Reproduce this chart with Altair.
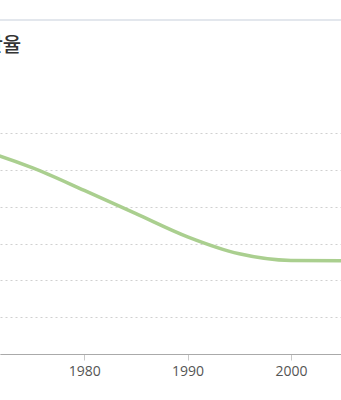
import altair as alt
import pandas as pd

years = [1965, 1970, 1975, 1980, 1985, 1990, 1995, 2000, 2005, 2010]
values = [5.85, 5.53, 5.05, 4.44, 3.81, 3.18, 2.72, 2.54, 2.53, 2.53]
x_ticks = [1980, 1990, 2000]
y_grid = [0, 1, 2, 3, 4, 5, 6]
title_text = "출산율"

df = pd.DataFrame({"year": years, "value": values})

W, H = 341, 221

line = alt.Chart(df).mark_line(
    color="#aacf8f", strokeWidth=3.5, interpolate="monotone", clip=True
).encode(
    x=alt.X("year:Q",
            scale=alt.Scale(domain=[1971.84, 2004.85], nice=False, zero=False),
            axis=alt.Axis(values=x_ticks, format="d", title=None, grid=False,
                          tickSize=6, tickColor="#c8c8c8", domainColor="#aaaaaa",
                          labelFontSize=14, labelColor="#555555",
                          labelFont="Open Sans", labelPadding=4)),
    y=alt.Y("value:Q",
            scale=alt.Scale(domain=[0, 6], nice=False),
            axis=alt.Axis(values=y_grid, title=None, labels=False, ticks=False,
                          domain=False, grid=True, gridColor="#d0d0d0",
                          gridDash=[2, 3], gridWidth=1)),
)

sep = alt.Chart(df).mark_rule(color="#e3e7ec", strokeWidth=1.5).encode(
    x=alt.value(0), x2=alt.value(W), y=alt.value(20 - 133)
)

title = alt.Chart(pd.DataFrame({"t": [title_text]})).mark_text(
    align="left", baseline="middle", fontSize=20, fontWeight=500,
    font="Noto Sans CJK KR", color="#333333"
).encode(
    x=alt.value(-34), y=alt.value(46 - 133), text="t:N"
)

chart = alt.layer(sep, line, title).properties(
    width=W, height=H,
    autosize=alt.AutoSizeParams(type="none"),
    padding={"top": 133, "left": 0, "right": 0, "bottom": 46},
).configure_view(strokeWidth=0)

chart.save("out.html", embed_options={"renderer": "svg", "actions": False})
